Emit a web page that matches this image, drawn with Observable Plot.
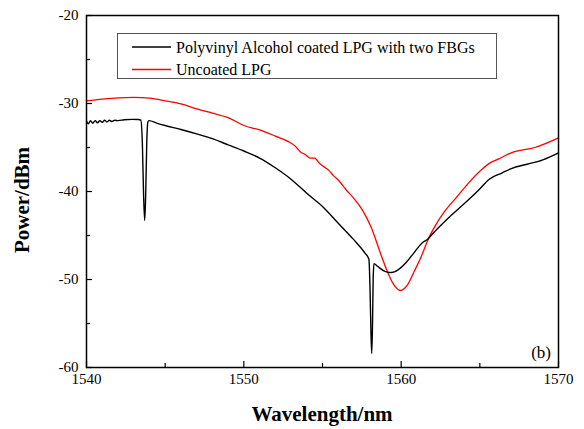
<!DOCTYPE html>
<html>
<head>
<meta charset="utf-8">
<script src="https://cdn.jsdelivr.net/npm/d3@7"></script>
<script src="https://cdn.jsdelivr.net/npm/@observablehq/plot@0.6"></script>
<style>
  html, body { margin: 0; padding: 0; background: #fff; }
  #chart { width: 584px; height: 429px; }
</style>
</head>
<body>
<div id="chart"></div>
<script>
// ---- data ----
const seriesNames = ["Polyvinyl Alcohol coated LPG with two FBGs", "Uncoated LPG"];
const seriesColors = ["#000000", "#ff0000"];

const coatedWavelength = [1540.0,1540.12,1540.25,1540.4,1540.55,1540.7,1540.85,1541.0,1541.15,1541.3,1541.45,1541.6,1541.8,1542.0,1542.4,1542.9,1543.3,1543.45,1543.55,1543.63,1543.7,1543.76,1543.83,1543.9,1543.97,1544.5,1545.0,1546.0,1547.0,1548.0,1549.0,1550.0,1551.0,1552.0,1553.0,1554.0,1555.0,1556.0,1557.0,1557.7,1557.95,1558.02,1558.08,1558.13,1558.18,1558.22,1558.27,1558.5,1559.0,1559.4,1559.8,1560.3,1560.8,1561.3,1561.7,1562.0,1563.0,1564.0,1564.9,1565.6,1566.4,1567.0,1568.0,1569.0,1570.0];
const coatedPower = [-32.0,-32.3,-31.95,-32.25,-31.95,-32.2,-31.95,-32.15,-31.9,-32.1,-31.9,-32.05,-31.9,-31.95,-31.85,-31.8,-31.82,-31.9,-34.5,-40.5,-43.3,-40.5,-34.5,-32.1,-31.95,-32.25,-32.5,-32.95,-33.45,-34.0,-34.7,-35.4,-36.2,-37.3,-38.6,-40.2,-41.7,-43.6,-45.5,-47.0,-47.7,-51.0,-56.0,-58.4,-55.0,-50.0,-48.2,-48.5,-49.1,-49.2,-48.9,-48.1,-47.0,-45.9,-45.4,-44.8,-43.0,-41.4,-39.9,-38.6,-37.9,-37.4,-36.9,-36.4,-35.6];

const uncoatedWavelength = [1540,1541,1542,1543,1544,1545,1546,1547,1548,1549,1550,1551,1552,1552.8,1553.3,1553.6,1553.9,1554.2,1554.5,1554.8,1555.1,1555.4,1555.7,1556.0,1556.5,1557.0,1557.5,1558.1,1558.7,1559.1,1559.5,1559.95,1560.4,1560.85,1561.3,1561.7,1562.2,1562.75,1563.5,1564.25,1565,1565.6,1566.2,1567,1568.5,1570];
const uncoatedPower = [-29.7,-29.5,-29.35,-29.3,-29.4,-29.7,-30.05,-30.6,-31.1,-31.6,-32.5,-33.0,-33.7,-34.3,-34.9,-35.5,-35.8,-36.2,-36.2,-36.8,-37.2,-37.6,-38.2,-38.7,-39.8,-40.8,-42.0,-44.1,-47.1,-49.0,-50.5,-51.25,-50.6,-49.0,-47.3,-45.5,-43.8,-42.3,-40.7,-39.1,-37.7,-36.8,-36.3,-35.6,-35.0,-33.9];

const xMajorTicks = [1540, 1550, 1560, 1570];
const xMinorTicks = [1545, 1555, 1565];
const yMajorTicks = [-60, -50, -40, -30, -20];
const yMinorTicks = [-55, -45, -35, -25];
const xTitle = "Wavelength/nm";
const yTitle = "Power/dBm";
const panelLabel = "(b)";

// ---- tables ----
const coated = coatedWavelength.map((w, i) => ({w, p: coatedPower[i]}));
const uncoated = uncoatedWavelength.map((w, i) => ({w, p: uncoatedPower[i]}));

const serif = "'Liberation Serif', 'Times New Roman', serif";

const chart = Plot.plot({
  width: 584,
  height: 429,
  marginLeft: 86,
  marginRight: 26,
  marginTop: 15,
  marginBottom: 62,
  style: {fontFamily: serif, fontSize: "15px", color: "#000", background: "#fff", overflow: "visible"},
  x: {domain: [1540, 1570]},
  y: {domain: [-60, -20]},
  marks: [
    Plot.line(uncoated, {x: "w", y: "p", stroke: seriesColors[1], strokeWidth: 1.3, curve: "monotone-x"}),
    Plot.line(coated, {x: "w", y: "p", stroke: seriesColors[0], strokeWidth: 1.4, curve: "monotone-x"}),
    Plot.axisX({ticks: xMajorTicks, tickSize: -6, tickPadding: 12, tickFormat: d => String(d), label: null, strokeWidth: 1.2, fontSize: 15, fill: "#000"}),
    Plot.axisX({ticks: xMinorTicks, tickSize: -4, tickFormat: () => "", label: null, strokeWidth: 1.2}),
    Plot.axisY({ticks: yMajorTicks, tickSize: -6, tickPadding: 14, tickFormat: d => String(d), label: null, strokeWidth: 1.2, fontSize: 15, fill: "#000"}),
    Plot.axisY({ticks: yMinorTicks, tickSize: -4, tickFormat: () => "", label: null, strokeWidth: 1.2}),
    Plot.frame({stroke: "#000", strokeWidth: 1.5})
  ]
});

document.getElementById("chart").appendChild(chart);

// ---- titles and legend ----
const svg = d3.select(chart);
svg.append("text")
  .attr("x", 322).attr("y", 421)
  .attr("text-anchor", "middle")
  .attr("font-family", serif).attr("font-weight", "bold").attr("font-size", 21)
  .attr("fill", "#000")
  .text(xTitle);
svg.append("text")
  .attr("transform", "translate(29,200) rotate(-90)")
  .attr("text-anchor", "middle")
  .attr("font-family", serif).attr("font-weight", "bold").attr("font-size", 21)
  .attr("fill", "#000")
  .text(yTitle);
svg.append("text")
  .attr("x", 551).attr("y", 358)
  .attr("text-anchor", "end")
  .attr("font-family", serif).attr("font-size", 17)
  .attr("fill", "#000")
  .text(panelLabel);

const lg = svg.append("g");
lg.append("rect")
  .attr("x", 117.5).attr("y", 33.5).attr("width", 379).attr("height", 45)
  .attr("fill", "#fff").attr("stroke", "#555").attr("stroke-width", 1);
seriesNames.forEach((name, i) => {
  const cy = 47 + i * 22.5;
  lg.append("line")
    .attr("x1", 132).attr("x2", 171).attr("y1", cy).attr("y2", cy)
    .attr("stroke", seriesColors[i]).attr("stroke-width", 1.5);
  lg.append("text")
    .attr("x", 176).attr("y", cy + 5.5)
    .attr("text-anchor", "start")
    .attr("font-family", serif).attr("font-size", 16)
    .attr("fill", "#000")
    .text(name);
});
</script>
</body>
</html>
